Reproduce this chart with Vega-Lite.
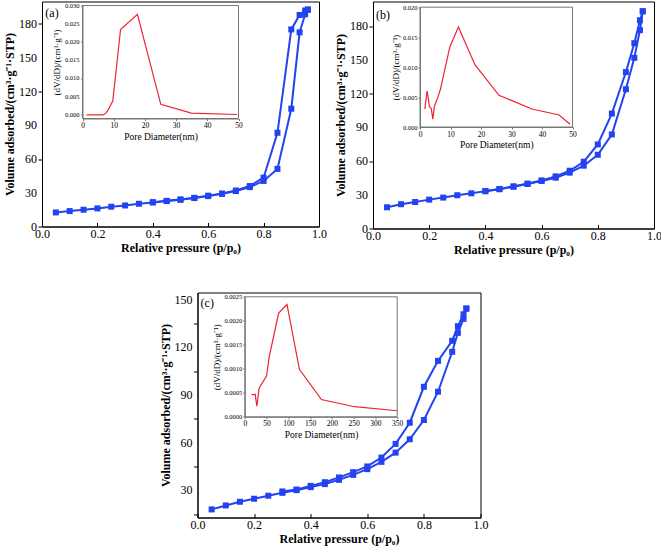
{
  "$schema": "https://vega.github.io/schema/vega-lite/v6.json",
  "padding": {"left": 3, "top": 0.5, "right": 0, "bottom": 0},
  "background": "white",
  "config": {
    "font": "Liberation Serif",
    "view": {"stroke": "black", "strokeWidth": 1},
    "axis": {"grid": false, "labelOverlap": false, "labelFont": "Liberation Serif", "titleFont": "Liberation Serif", "labelColor": "black", "titleColor": "black", "domainColor": "black", "tickColor": "black"},
    "text": {"font": "Liberation Serif"}
  },
  "datasets": {
    "isoA": [
      {"p": 0.05, "v": 12.5, "branch": "ads"}, {"p": 0.1, "v": 13.7, "branch": "ads"}, {"p": 0.15, "v": 14.9, "branch": "ads"}, {"p": 0.2, "v": 16.1, "branch": "ads"}, {"p": 0.25, "v": 17.6, "branch": "ads"}, {"p": 0.3, "v": 18.7, "branch": "ads"}, {"p": 0.35, "v": 20.2, "branch": "ads"}, {"p": 0.4, "v": 21.4, "branch": "ads"}, {"p": 0.45, "v": 22.6, "branch": "ads"}, {"p": 0.5, "v": 23.8, "branch": "ads"}, {"p": 0.55, "v": 25.3, "branch": "ads"}, {"p": 0.6, "v": 27.0, "branch": "ads"}, {"p": 0.65, "v": 29.0, "branch": "ads"}, {"p": 0.7, "v": 31.5, "branch": "ads"}, {"p": 0.75, "v": 35.0, "branch": "ads"}, {"p": 0.8, "v": 40.5, "branch": "ads"}, {"p": 0.85, "v": 51.2, "branch": "ads"}, {"p": 0.9, "v": 104.7, "branch": "ads"}, {"p": 0.93, "v": 172.6, "branch": "ads"}, {"p": 0.95, "v": 188.6, "branch": "ads"}, {"p": 0.96, "v": 192.8, "branch": "ads"},
      {"p": 0.96, "v": 192.8, "branch": "des"}, {"p": 0.95, "v": 192.0, "branch": "des"}, {"p": 0.93, "v": 188.0, "branch": "des"}, {"p": 0.9, "v": 175.2, "branch": "des"}, {"p": 0.85, "v": 83.3, "branch": "des"}, {"p": 0.8, "v": 43.4, "branch": "des"}, {"p": 0.75, "v": 36.0, "branch": "des"}, {"p": 0.7, "v": 32.0, "branch": "des"}, {"p": 0.65, "v": 29.3, "branch": "des"}, {"p": 0.6, "v": 27.4, "branch": "des"}, {"p": 0.55, "v": 25.5, "branch": "des"}, {"p": 0.5, "v": 24.0, "branch": "des"}, {"p": 0.45, "v": 22.8, "branch": "des"}, {"p": 0.4, "v": 21.6, "branch": "des"}
    ],
    "isoB": [
      {"p": 0.05, "v": 18.9, "branch": "ads"}, {"p": 0.1, "v": 21.6, "branch": "ads"}, {"p": 0.15, "v": 23.6, "branch": "ads"}, {"p": 0.2, "v": 25.7, "branch": "ads"}, {"p": 0.25, "v": 27.5, "branch": "ads"}, {"p": 0.3, "v": 29.6, "branch": "ads"}, {"p": 0.35, "v": 31.3, "branch": "ads"}, {"p": 0.4, "v": 33.1, "branch": "ads"}, {"p": 0.45, "v": 34.9, "branch": "ads"}, {"p": 0.5, "v": 37.2, "branch": "ads"}, {"p": 0.55, "v": 39.6, "branch": "ads"}, {"p": 0.6, "v": 42.3, "branch": "ads"}, {"p": 0.65, "v": 45.2, "branch": "ads"}, {"p": 0.7, "v": 49.7, "branch": "ads"}, {"p": 0.75, "v": 55.9, "branch": "ads"}, {"p": 0.8, "v": 65.6, "branch": "ads"}, {"p": 0.85, "v": 83.7, "branch": "ads"}, {"p": 0.9, "v": 123.9, "branch": "ads"}, {"p": 0.93, "v": 151.9, "branch": "ads"}, {"p": 0.95, "v": 176.5, "branch": "ads"}, {"p": 0.96, "v": 193.3, "branch": "ads"},
      {"p": 0.96, "v": 193.3, "branch": "des"}, {"p": 0.95, "v": 185.3, "branch": "des"}, {"p": 0.93, "v": 164.9, "branch": "des"}, {"p": 0.9, "v": 139.2, "branch": "des"}, {"p": 0.85, "v": 102.3, "branch": "des"}, {"p": 0.8, "v": 74.8, "branch": "des"}, {"p": 0.75, "v": 59.4, "branch": "des"}, {"p": 0.7, "v": 51.4, "branch": "des"}, {"p": 0.65, "v": 46.4, "branch": "des"}, {"p": 0.6, "v": 42.8, "branch": "des"}, {"p": 0.55, "v": 40.0, "branch": "des"}, {"p": 0.5, "v": 37.5, "branch": "des"}, {"p": 0.45, "v": 35.2, "branch": "des"}, {"p": 0.4, "v": 33.4, "branch": "des"}
    ],
    "isoC": [
      {"p": 0.05, "v": 18.1, "branch": "ads"}, {"p": 0.1, "v": 20.6, "branch": "ads"}, {"p": 0.15, "v": 22.9, "branch": "ads"}, {"p": 0.2, "v": 24.8, "branch": "ads"}, {"p": 0.25, "v": 26.7, "branch": "ads"}, {"p": 0.3, "v": 28.5, "branch": "ads"}, {"p": 0.35, "v": 30.2, "branch": "ads"}, {"p": 0.4, "v": 32.1, "branch": "ads"}, {"p": 0.45, "v": 34.0, "branch": "ads"}, {"p": 0.5, "v": 36.7, "branch": "ads"}, {"p": 0.55, "v": 39.8, "branch": "ads"}, {"p": 0.6, "v": 43.4, "branch": "ads"}, {"p": 0.65, "v": 48.0, "branch": "ads"}, {"p": 0.7, "v": 53.8, "branch": "ads"}, {"p": 0.75, "v": 62.2, "branch": "ads"}, {"p": 0.8, "v": 74.3, "branch": "ads"}, {"p": 0.85, "v": 92.1, "branch": "ads"}, {"p": 0.9, "v": 117.2, "branch": "ads"}, {"p": 0.92, "v": 129.1, "branch": "ads"}, {"p": 0.94, "v": 137.9, "branch": "ads"}, {"p": 0.95, "v": 144.4, "branch": "ads"},
      {"p": 0.95, "v": 144.4, "branch": "des"}, {"p": 0.94, "v": 140.8, "branch": "des"}, {"p": 0.92, "v": 133.3, "branch": "des"}, {"p": 0.9, "v": 124.1, "branch": "des"}, {"p": 0.85, "v": 111.5, "branch": "des"}, {"p": 0.8, "v": 95.2, "branch": "des"}, {"p": 0.75, "v": 72.6, "branch": "des"}, {"p": 0.7, "v": 59.3, "branch": "des"}, {"p": 0.65, "v": 50.7, "branch": "des"}, {"p": 0.6, "v": 45.1, "branch": "des"}, {"p": 0.55, "v": 41.5, "branch": "des"}, {"p": 0.5, "v": 38.2, "branch": "des"}, {"p": 0.45, "v": 35.2, "branch": "des"}, {"p": 0.4, "v": 32.9, "branch": "des"}, {"p": 0.35, "v": 30.6, "branch": "des"}, {"p": 0.3, "v": 29.4, "branch": "des"}
    ],
    "psdA": [
      {"d": 1.3, "dv": 0}, {"d": 6.6, "dv": 0}, {"d": 7.4, "dv": 0.0004}, {"d": 8, "dv": 0.001}, {"d": 9.7, "dv": 0.0038}, {"d": 12.2, "dv": 0.0234}, {"d": 17.6, "dv": 0.0276}, {"d": 25.1, "dv": 0.0029}, {"d": 34.9, "dv": 0.0005}, {"d": 49.5, "dv": 0.0001}
    ],
    "psdB": [
      {"d": 1.6, "dv": 0.003}, {"d": 2.3, "dv": 0.006}, {"d": 2.6, "dv": 0.0052}, {"d": 3.1, "dv": 0.0034}, {"d": 3.7, "dv": 0.0031}, {"d": 4.2, "dv": 0.0013}, {"d": 4.7, "dv": 0.0034}, {"d": 5.8, "dv": 0.0049}, {"d": 6.7, "dv": 0.0063}, {"d": 9.8, "dv": 0.0134}, {"d": 12.6, "dv": 0.0167}, {"d": 18, "dv": 0.0104}, {"d": 25.9, "dv": 0.0053}, {"d": 36.7, "dv": 0.003}, {"d": 45.6, "dv": 0.002}, {"d": 49.2, "dv": 0.00045}
    ],
    "psdC": [
      {"d": 15.4, "dv": 0.00046}, {"d": 21.5, "dv": 0.00046}, {"d": 23.8, "dv": 0.00047}, {"d": 27.7, "dv": 0.00022}, {"d": 33, "dv": 0.0006}, {"d": 50, "dv": 0.00085}, {"d": 56, "dv": 0.00125}, {"d": 77.7, "dv": 0.00216}, {"d": 96.9, "dv": 0.00234}, {"d": 125.4, "dv": 0.00099}, {"d": 176, "dv": 0.00036}, {"d": 252, "dv": 0.00021}, {"d": 350, "dv": 0.000126}
    ],
    "yLabAB": [
      {"v": 0, "t": "0"}, {"v": 30, "t": "30"}, {"v": 60, "t": "60"}, {"v": 90, "t": "90"}, {"v": 120, "t": "120"}, {"v": 150, "t": "150"}, {"v": 180, "t": "180"}
    ],
    "yLabC": [
      {"v": 30, "t": "30"}, {"v": 60, "t": "60"}, {"v": 90, "t": "90"}, {"v": 120, "t": "120"}, {"v": 150, "t": "150"}
    ],
    "insetLabA": [
      {"dv": 0, "t": "0.000"}, {"dv": 0.005, "t": "0.005"}, {"dv": 0.01, "t": "0.010"}, {"dv": 0.015, "t": "0.015"}, {"dv": 0.02, "t": "0.020"}, {"dv": 0.025, "t": "0.025"}, {"dv": 0.03, "t": "0.030"}
    ]
  },
  "vconcat": [
    {
      "hconcat": [
        {
          "width": 277, "height": 225,
          "layer": [
            {
              "layer": [
                {
                  "data": {"name": "isoA"},
                  "mark": {"type": "line", "color": "#2343f0", "strokeWidth": 2, "point": {"shape": "square", "filled": true, "size": 36, "color": "#2343f0"}},
                  "encoding": {
                    "x": {"field": "p", "type": "quantitative", "scale": {"domain": [0, 1], "nice": false, "zero": false},
                      "axis": {"values": [0, 0.1, 0.2, 0.3, 0.4, 0.5, 0.6, 0.7, 0.8, 0.9, 1], "format": ".1f", "labelExpr": "round(datum.value*10) % 2 == 0 ? datum.label : ''", "labelOverlap": false, "tickSize": -4, "labelPadding": 6, "labelFontSize": 12, "labelFlush": false, "title": "Relative pressure (p/p₀)", "titleFontSize": 12, "titleFontWeight": "bold", "titlePadding": 3}},
                    "y": {"field": "v", "type": "quantitative", "scale": {"domain": [0, 200], "nice": false, "zero": false},
                      "axis": {"values": [0, 15, 30, 45, 60, 75, 90, 105, 120, 135, 150, 165, 180, 195], "labels": false, "tickSize": 4, "title": "Volume adsorbed/(cm³·g⁻¹·STP)", "titleFontSize": 12, "titleFontWeight": "bold", "titlePadding": 21}},
                    "detail": {"field": "branch"}
                  }
                },
                {
                  "data": {"name": "yLabAB"},
                  "mark": {"type": "text", "align": "right", "baseline": "middle", "fontSize": 12, "dx": -5},
                  "encoding": {"x": {"datum": 0}, "y": {"field": "v", "type": "quantitative"}, "text": {"field": "t"}}
                },
                {
                  "data": {"values": [{"t": "(a)"}]},
                  "mark": {"type": "text", "align": "left", "baseline": "middle", "fontSize": 12},
                  "encoding": {"x": {"datum": 0.012}, "y": {"datum": 189.5}, "text": {"field": "t"}}
                }
              ]
            },
            {
              "layer": [
                {
                  "data": {"values": [{}]},
                  "mark": {"type": "rect", "fill": "white", "fillOpacity": 0, "stroke": "#777777", "strokeWidth": 1},
                  "encoding": {"x": {"datum": 0}, "x2": {"datum": 50}, "y": {"datum": -0.001}, "y2": {"datum": 0.03}}
                },
                {
                  "data": {"name": "insetLabA"},
                  "mark": {"type": "text", "align": "right", "baseline": "middle", "fontSize": 6.5, "dx": -3},
                  "encoding": {"x": {"datum": 0}, "y": {"field": "dv", "type": "quantitative"}, "text": {"field": "t"}}
                },
                {
                  "data": {"name": "psdA"},
                  "mark": {"type": "line", "color": "#ee2233", "strokeWidth": 1.2},
                  "encoding": {
                    "x": {"field": "d", "type": "quantitative", "scale": {"domain": [0, 50], "range": [40.5, 196.5], "nice": false, "zero": false},
                      "axis": {"orient": "bottom", "offset": -108, "values": [0, 10, 20, 30, 40, 50], "labelOverlap": false, "tickSize": 2, "labelPadding": 1, "labelFontSize": 7.5, "labelFlush": false, "domainColor": "#777777", "tickColor": "#777777", "title": "Pore Diameter(nm)", "titleFontSize": 9.5, "titleFontWeight": "normal", "titlePadding": 2}},
                    "y": {"field": "dv", "type": "quantitative", "scale": {"domain": [-0.001, 0.03], "range": [117, 4], "nice": false, "zero": false},
                      "axis": {"orient": "left", "offset": -40.5, "values": [0, 0.005, 0.01, 0.015, 0.02, 0.025, 0.03], "labels": false, "tickSize": 2, "domainColor": "#777777", "tickColor": "#777777", "title": "(dV/dD)/(cm³·g⁻¹)", "titleFontSize": 9, "titleFontWeight": "normal", "titlePadding": 19}}
                  }
                }
              ]
            }
          ],
          "resolve": {"scale": {"x": "independent", "y": "independent"}, "axis": {"x": "independent", "y": "independent"}}
        },
        {
          "width": 281, "height": 227,
          "layer": [
            {
              "layer": [
                {
                  "data": {"name": "isoB"},
                  "mark": {"type": "line", "color": "#2343f0", "strokeWidth": 2, "point": {"shape": "square", "filled": true, "size": 36, "color": "#2343f0"}},
                  "encoding": {
                    "x": {"field": "p", "type": "quantitative", "scale": {"domain": [0, 1], "nice": false, "zero": false},
                      "axis": {"values": [0, 0.1, 0.2, 0.3, 0.4, 0.5, 0.6, 0.7, 0.8, 0.9, 1], "format": ".1f", "labelExpr": "round(datum.value*10) % 2 == 0 ? datum.label : ''", "labelOverlap": false, "tickSize": -4, "labelPadding": 6, "labelFontSize": 12, "labelFlush": false, "title": "Relative pressure (p/p₀)", "titleFontSize": 12, "titleFontWeight": "bold", "titlePadding": 3}},
                    "y": {"field": "v", "type": "quantitative", "scale": {"domain": [0, 202], "nice": false, "zero": false},
                      "axis": {"values": [0, 15, 30, 45, 60, 75, 90, 105, 120, 135, 150, 165, 180, 195], "labels": false, "tickSize": 4, "title": "Volume adsorbed/(cm³·g⁻¹·STP)", "titleFontSize": 12, "titleFontWeight": "bold", "titlePadding": 21}},
                    "detail": {"field": "branch"}
                  }
                },
                {
                  "data": {"name": "yLabAB"},
                  "mark": {"type": "text", "align": "right", "baseline": "middle", "fontSize": 12, "dx": -5},
                  "encoding": {"x": {"datum": 0}, "y": {"field": "v", "type": "quantitative"}, "text": {"field": "t"}}
                },
                {
                  "data": {"values": [{"t": "(b)"}]},
                  "mark": {"type": "text", "align": "left", "baseline": "middle", "fontSize": 12},
                  "encoding": {"x": {"datum": 0.011}, "y": {"datum": 190}, "text": {"field": "t"}}
                }
              ]
            },
            {
              "layer": [
                {
                  "data": {"values": [{}]},
                  "mark": {"type": "rect", "fill": "white", "fillOpacity": 0, "stroke": "#777777", "strokeWidth": 1},
                  "encoding": {"x": {"datum": 0}, "x2": {"datum": 50}, "y": {"datum": 0}, "y2": {"datum": 0.02}}
                },
                {
                  "data": {"name": "psdB"},
                  "mark": {"type": "line", "color": "#ee2233", "strokeWidth": 1.2},
                  "encoding": {
                    "x": {"field": "d", "type": "quantitative", "scale": {"domain": [0, 50], "range": [47, 199.5], "nice": false, "zero": false},
                      "axis": {"orient": "bottom", "offset": -101.5, "values": [0, 10, 20, 30, 40, 50], "labelOverlap": false, "tickSize": 2, "labelPadding": 1, "labelFontSize": 7.5, "labelFlush": false, "domainColor": "#777777", "tickColor": "#777777", "title": "Pore Diameter(nm)", "titleFontSize": 9.5, "titleFontWeight": "normal", "titlePadding": 2}},
                    "y": {"field": "dv", "type": "quantitative", "scale": {"domain": [0, 0.02], "range": [125.5, 5.7], "nice": false, "zero": false},
                      "axis": {"orient": "left", "offset": -47, "values": [0, 0.005, 0.01, 0.015, 0.02], "format": ".3f", "labelOverlap": false, "tickSize": 2, "labelPadding": 1, "labelFontSize": 6.5, "labelFlush": false, "domainColor": "#777777", "tickColor": "#777777", "title": "(dV/dD)/(cm³·g⁻¹)", "titleFontSize": 9, "titleFontWeight": "normal", "titlePadding": 2}}
                  }
                }
              ]
            }
          ],
          "resolve": {"scale": {"x": "independent", "y": "independent"}, "axis": {"x": "independent", "y": "independent"}}
        }
      ],
      "spacing": 54,
      "bounds": "flush",
      "align": "each"
    },
    {
      "hconcat": [
        {
          "width": 150.5, "height": 1,
          "data": {"values": []},
          "mark": "point",
          "view": {"stroke": null, "fill": "white"}
        },
        {
          "width": 283, "height": 225,
          "layer": [
            {
              "layer": [
                {
                  "data": {"name": "isoC"},
                  "mark": {"type": "line", "color": "#2343f0", "strokeWidth": 2, "point": {"shape": "square", "filled": true, "size": 36, "color": "#2343f0"}},
                  "encoding": {
                    "x": {"field": "p", "type": "quantitative", "scale": {"domain": [0, 1], "nice": false, "zero": false},
                      "axis": {"values": [0, 0.1, 0.2, 0.3, 0.4, 0.5, 0.6, 0.7, 0.8, 0.9, 1], "format": ".1f", "labelExpr": "round(datum.value*10) % 2 == 0 ? datum.label : ''", "labelOverlap": false, "tickSize": -4, "labelPadding": 6, "labelFontSize": 12, "labelFlush": false, "title": "Relative pressure (p/p₀)", "titleFontSize": 12, "titleFontWeight": "bold", "titlePadding": 3}},
                    "y": {"field": "v", "type": "quantitative", "scale": {"domain": [13, 154.5], "nice": false, "zero": false},
                      "axis": {"values": [15, 30, 45, 60, 75, 90, 105, 120, 135, 150], "labels": false, "tickSize": 4, "title": "Volume adsorbed/(cm³·g⁻¹·STP)", "titleFontSize": 12, "titleFontWeight": "bold", "titlePadding": 21}},
                    "detail": {"field": "branch"}
                  }
                },
                {
                  "data": {"name": "yLabC"},
                  "mark": {"type": "text", "align": "right", "baseline": "middle", "fontSize": 12, "dx": -5},
                  "encoding": {"x": {"datum": 0}, "y": {"field": "v", "type": "quantitative"}, "text": {"field": "t"}}
                },
                {
                  "data": {"values": [{"t": "(c)"}]},
                  "mark": {"type": "text", "align": "left", "baseline": "middle", "fontSize": 12},
                  "encoding": {"x": {"datum": 0.011}, "y": {"datum": 148.2}, "text": {"field": "t"}}
                }
              ]
            },
            {
              "layer": [
                {
                  "data": {"values": [{}]},
                  "mark": {"type": "rect", "fill": "white", "fillOpacity": 0, "stroke": "#777777", "strokeWidth": 1},
                  "encoding": {"x": {"datum": 0}, "x2": {"datum": 350}, "y": {"datum": 0}, "y2": {"datum": 0.0025}}
                },
                {
                  "data": {"name": "psdC"},
                  "mark": {"type": "line", "color": "#ee2233", "strokeWidth": 1.2},
                  "encoding": {
                    "x": {"field": "d", "type": "quantitative", "scale": {"domain": [0, 350], "range": [47.3, 199.7], "nice": false, "zero": false},
                      "axis": {"orient": "bottom", "offset": -100.7, "values": [0, 50, 100, 150, 200, 250, 300, 350], "labelOverlap": false, "tickSize": 2, "labelPadding": 1, "labelFontSize": 7.5, "labelFlush": false, "domainColor": "#777777", "tickColor": "#777777", "title": "Pore Diameter(nm)", "titleFontSize": 9.5, "titleFontWeight": "normal", "titlePadding": 2}},
                    "y": {"field": "dv", "type": "quantitative", "scale": {"domain": [0, 0.0025], "range": [124.3, 4.3], "nice": false, "zero": false},
                      "axis": {"orient": "left", "offset": -47.3, "values": [0, 0.0005, 0.001, 0.0015, 0.002, 0.0025], "format": ".4f", "labelOverlap": false, "tickSize": 2, "labelPadding": 1, "labelFontSize": 6.5, "labelFlush": false, "domainColor": "#777777", "tickColor": "#777777", "title": "(dV/dD)/(cm³·g⁻¹)", "titleFontSize": 9, "titleFontWeight": "normal", "titlePadding": 2}}
                  }
                }
              ]
            }
          ],
          "resolve": {"scale": {"x": "independent", "y": "independent"}, "axis": {"x": "independent", "y": "independent"}}
        }
      ],
      "spacing": 4.5,
      "bounds": "flush",
      "align": "each"
    }
  ],
  "spacing": 35,
  "align": "each"
}
